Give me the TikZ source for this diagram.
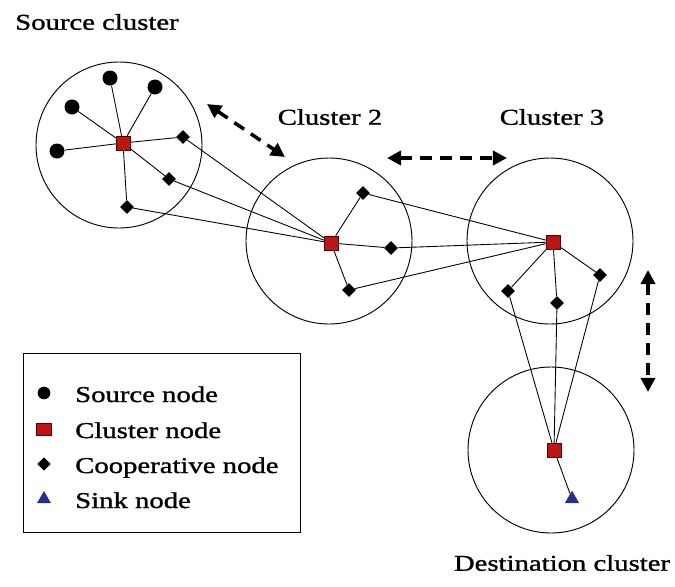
\documentclass[tikz,border=0pt]{standalone}
\usepackage{fontspec}
\newfontfamily\lblfont[FakeStretch=1.27,FakeBold=1.2]{Liberation Serif}
\usepackage{tikz}
\usetikzlibrary{shapes,arrows.meta,positioning,calc}
\definecolor{headred}{RGB}{190,20,20}
\definecolor{sinkblue}{RGB}{45,45,135}

\begin{document}
\begin{tikzpicture}[x=0.03cm, y=-0.03cm,
      lbl/.style={font=\lblfont\fontsize{19.3}{23}\selectfont, inner sep=0pt},
      zone/.style={draw, circle, line width=0.8pt, minimum size=4.98cm, inner sep=0pt},
      src/.style={circle, fill=black, minimum size=0.45cm, inner sep=0pt},
      head/.style={rectangle, draw=black!70!red, fill=headred, minimum size=0.42cm, inner sep=0pt},
      coop/.style={diamond, fill=black, minimum size=0.42cm, inner sep=0pt},
      sink/.style={regular polygon, regular polygon sides=3, fill=sinkblue, minimum size=0.5cm, inner sep=0pt},
      link/.style={line width=0.75pt},
      dasharr/.style={{Triangle[length=12pt,width=12pt]}-{Triangle[length=12pt,width=12pt]}, line width=3pt, dash pattern=on 10pt off 7pt}
    ]
    \useasboundingbox (0,0) rectangle (675,586);
    % clusters
    \node[zone] (srcc) at (119,145) {};
    \node[zone] (cl2) at (329,241) {};
    \node[zone] (cl3) at (550,241) {};
    \node[zone] (dst) at (551,450) {};
    \node[lbl] (tsrc) at (97,22) {Source cluster};
    \node[lbl] (tcl2) at (330,117) {Cluster 2};
    \node[lbl] (tcl3) at (552,117) {Cluster 3};
    \node[lbl] (tdst) at (562,563) {Destination cluster};
    % source cluster
    \node[head] (h1) at (123,143) {};
    \node[src] (s1) at (110,78) {};
    \node[src] (s2) at (155,87) {};
    \node[src] (s3) at (72,107) {};
    \node[src] (s4) at (57,151) {};
    \node[coop] (k11) at (183,137) {};
    \node[coop] (k12) at (169,179) {};
    \node[coop] (k13) at (127,207) {};
    % cluster 2
    \node[head] (h2) at (331,243) {};
    \node[coop] (k21) at (363,193) {};
    \node[coop] (k22) at (391,248) {};
    \node[coop] (k23) at (349,290) {};
    % cluster 3
    \node[head] (h3) at (553,242) {};
    \node[coop] (k31) at (508,291) {};
    \node[coop] (k32) at (557,303) {};
    \node[coop] (k33) at (600,275) {};
    % destination cluster
    \node[head] (h4) at (554,450) {};
    \node[sink] (snk) at (572,499) {};
    \foreach \n in {s1,s2,s3,s4,k11,k12,k13} \draw[link] (h1) -- (\n);
    \foreach \n in {k11,k12,k13} \draw[link] (\n) -- (h2);
    \foreach \n in {k21,k22,k23} {\draw[link] (h2) -- (\n); \draw[link] (\n) -- (h3);}
    \foreach \n in {k31,k32,k33} {\draw[link] (h3) -- (\n); \draw[link] (\n) -- (h4);}
    \draw[link] (h4) -- (snk);
    % hops between clusters
    \coordinate (a1) at (207,104); \coordinate (b1) at (285,157);
    \coordinate (a2) at (387,158); \coordinate (b2) at (507,158);
    \coordinate (a3) at (648,270); \coordinate (b3) at (648,392);
    \draw[dasharr] (a1) -- (b1);
    \draw[dasharr] (a2) -- (b2);
    \draw[dasharr] (a3) -- (b3);
    % legend
    \node[draw, line width=0.8pt, minimum width=8.31cm, minimum height=5.37cm, anchor=north west] (key) at (23,353) {};
    \node[src, minimum size=0.38cm] (ks) at (44,393) {};
    \node[head, minimum width=0.45cm, minimum height=0.36cm] (kh) at (44,429) {};
    \node[coop, minimum size=0.4cm] (kc) at (44,464) {};
    \node[sink, minimum size=0.48cm] (kk) at (44,499) {};
    \node[lbl, anchor=base west] (ts) at (75,402) {Source node};
    \node[lbl, anchor=base west] (th) at (75,438) {Cluster node};
    \node[lbl, anchor=base west] (tc) at (75,473) {Cooperative node};
    \node[lbl, anchor=base west] (tk) at (75,508) {Sink node};
  \end{tikzpicture}
\end{document}
